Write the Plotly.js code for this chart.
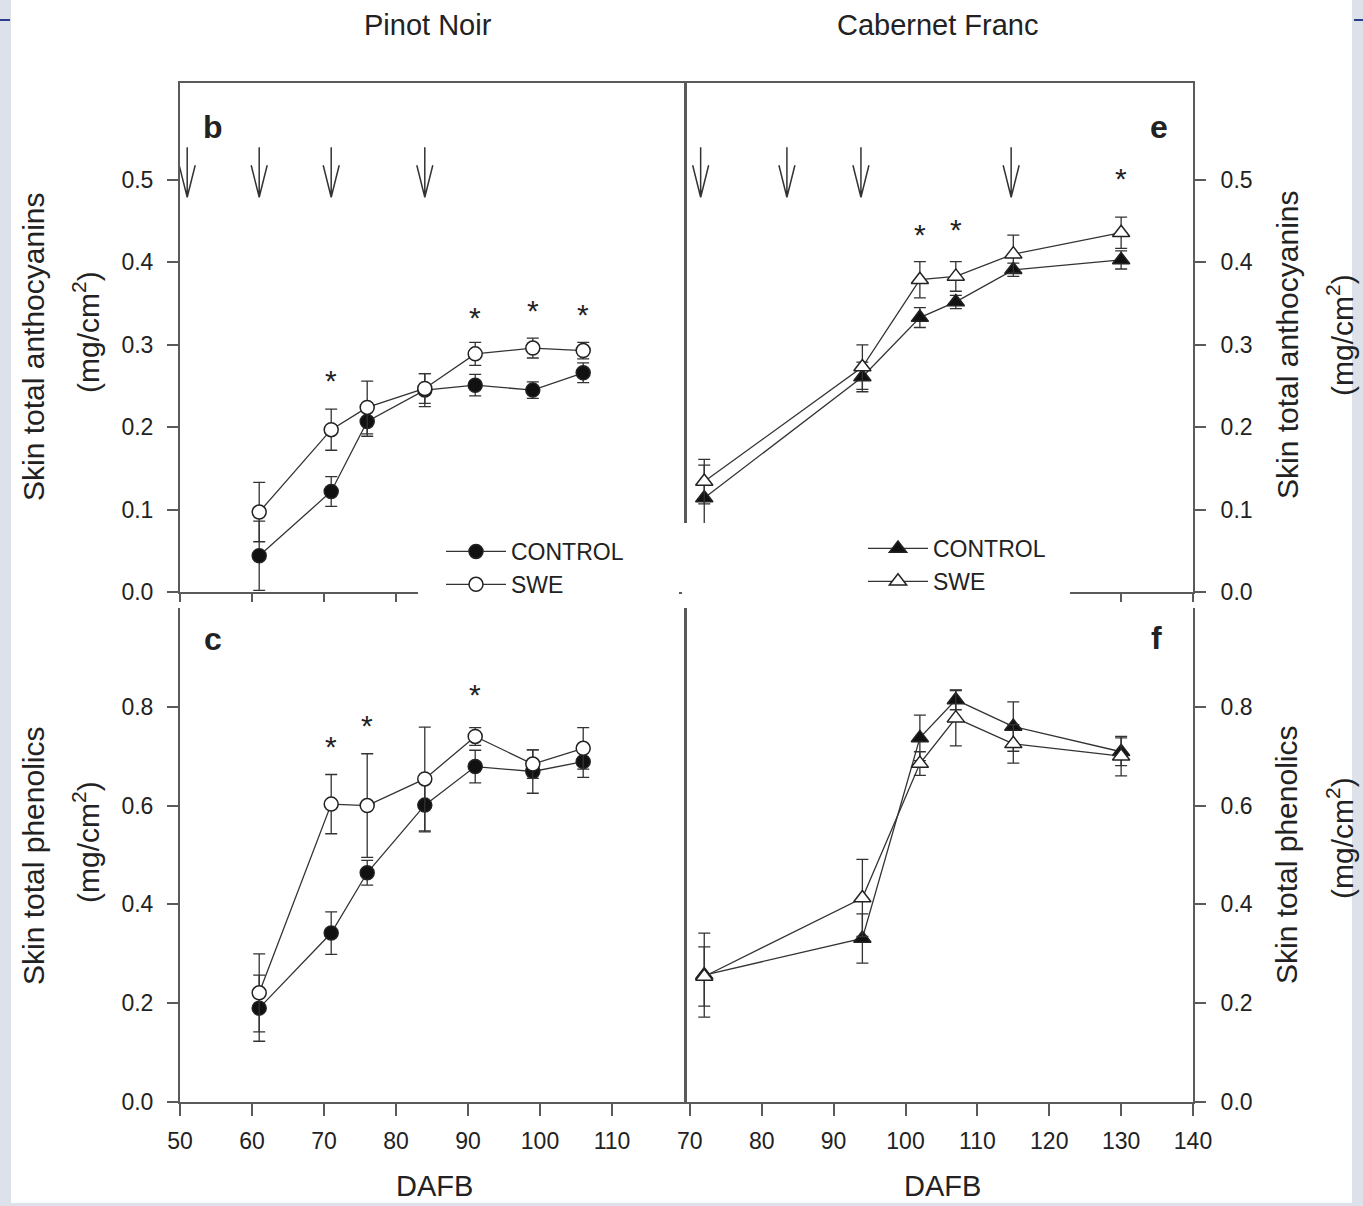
<!DOCTYPE html>
<html>
<head>
<meta charset="utf-8">
<script src="https://cdn.plot.ly/plotly-3.0.1.min.js"></script>
<style>html,body{margin:0;padding:0;background:#fff;}#chart{width:1363px;height:1206px;}</style>
</head>
<body>
<div id="chart"></div>
<script>
// ---------------- data ----------------
const pinotDates = [61, 71, 76, 84, 91, 99, 106];
const pinotAnthControl = [0.044, 0.122, 0.207, 0.245, 0.251, 0.245, 0.266];
const pinotAnthControlErr = [0.042, 0.018, 0.018, 0.020, 0.013, 0.010, 0.012];
const pinotAnthSWE = [0.097, 0.197, 0.224, 0.247, 0.289, 0.296, 0.293];
const pinotAnthSWEErr = [0.036, 0.025, 0.032, 0.018, 0.014, 0.012, 0.010];
const pinotPhenControl = [0.190, 0.342, 0.464, 0.601, 0.679, 0.669, 0.689];
const pinotPhenControlErr = [0.067, 0.043, 0.025, 0.054, 0.033, 0.044, 0.032];
const pinotPhenSWE = [0.221, 0.603, 0.600, 0.654, 0.740, 0.684, 0.716];
const pinotPhenSWEErr = [0.079, 0.060, 0.105, 0.105, 0.018, 0.029, 0.042];

const cabDates = [72, 94, 102, 107, 115, 130];
const cabAnthControl = [0.114, 0.261, 0.333, 0.352, 0.391, 0.403];
const cabAnthControlErr = [0.040, 0.018, 0.012, 0.008, 0.008, 0.011];
const cabAnthSWE = [0.134, 0.273, 0.379, 0.383, 0.410, 0.436];
const cabAnthSWEErr = [0.027, 0.027, 0.022, 0.018, 0.023, 0.019];
const cabPhenControl = [0.257, 0.331, 0.737, 0.814, 0.760, 0.709];
const cabPhenControlErr = [0.085, 0.050, 0.046, 0.020, 0.050, 0.028];
const cabPhenSWE = [0.254, 0.413, 0.685, 0.777, 0.725, 0.700];
const cabPhenSWEErr = [0.060, 0.078, 0.024, 0.056, 0.039, 0.040];

// spray (treatment) dates shown as arrows
const pinotSprayDates = [51, 61, 71, 84];
const cabSprayDates = [71.5, 83.5, 93.8, 114.7];
const arrowTipValue = 0.479;

// significance asterisks
const pinotAnthStarX = [71, 91, 99, 106];
const pinotAnthStarY = [0.260, 0.337, 0.345, 0.341];
const pinotPhenStarX = [71, 76, 91];
const pinotPhenStarY = [0.725, 0.768, 0.831];
const cabAnthStarX = [102, 107, 130];
const cabAnthStarY = [0.438, 0.443, 0.506];

const seriesNames = ['CONTROL', 'SWE'];
const pinotXTicks = [50, 60, 70, 80, 90, 100, 110];
const pinotAllTicks = [50, 60, 70, 80, 90, 100, 110, 120];
const cabXTicks = [70, 80, 90, 100, 110, 120, 130, 140];
const anthYTicks = [0, 0.1, 0.2, 0.3, 0.4, 0.5];
const phenYTicks = [0, 0.2, 0.4, 0.6, 0.8];

// ---------------- styles ----------------
const W = 1363, H = 1206;
const FONT = 'Liberation Sans, Arial, sans-serif';
const TXT = '#222';
const AX = '#5a5a5a';
const LINE = '#333';
const px = v => v / W;
const py = v => 1 - v / H;

function trace(x, y, err, name, symbol, filled, xa, ya, show, legend) {
  return {
    type: 'scatter', mode: 'lines+markers', x: x, y: y, name: name,
    xaxis: xa, yaxis: ya, showlegend: show, legend: legend,
    line: {color: LINE, width: 1.3},
    marker: {symbol: symbol, size: symbol.indexOf('triangle') === 0 ? 15 : 14,
             color: filled ? '#111' : '#fff', line: {color: '#222', width: 1.5}},
    error_y: {type: 'data', array: err, visible: true, color: LINE, thickness: 1.3, width: 6}
  };
}

const data = [
  trace(pinotDates, pinotAnthControl, pinotAnthControlErr, seriesNames[0], 'circle', true, 'x', 'y', true, 'legend'),
  trace(pinotDates, pinotAnthSWE, pinotAnthSWEErr, seriesNames[1], 'circle', false, 'x', 'y', true, 'legend'),
  trace(cabDates, cabAnthControl, cabAnthControlErr, seriesNames[0], 'triangle-up', true, 'x2', 'y2', true, 'legend2'),
  trace(cabDates, cabAnthSWE, cabAnthSWEErr, seriesNames[1], 'triangle-up', false, 'x2', 'y2', true, 'legend2'),
  trace(pinotDates, pinotPhenControl, pinotPhenControlErr, seriesNames[0], 'circle', true, 'x3', 'y3', false, 'legend'),
  trace(pinotDates, pinotPhenSWE, pinotPhenSWEErr, seriesNames[1], 'circle', false, 'x3', 'y3', false, 'legend'),
  trace(cabDates, cabPhenControl, cabPhenControlErr, seriesNames[0], 'triangle-up', true, 'x4', 'y4', false, 'legend2'),
  trace(cabDates, cabPhenSWE, cabPhenSWEErr, seriesNames[1], 'triangle-up', false, 'x4', 'y4', false, 'legend2')
];

const tickFont = {family: FONT, size: 23, color: TXT};
function xax(domain, range, ticks, labels, anchor, mirror, len) {
  return {domain: domain, range: range, anchor: anchor, tickmode: 'array', tickvals: ticks,
    showticklabels: labels, ticks: 'outside', ticklen: len, tickwidth: 2, tickcolor: AX,
    showline: true, linewidth: 2, linecolor: AX, mirror: mirror, showgrid: false, zeroline: false,
    tickfont: tickFont, ticklabelstandoff: 5, fixedrange: true};
}
function xtop(range, ticks, over, anchor) {
  return {overlaying: over, anchor: anchor, side: 'top', range: range, tickmode: 'array', tickvals: ticks,
    showticklabels: false, ticks: 'inside', ticklen: 6, tickwidth: 1.5, tickcolor: '#888',
    showline: false, showgrid: false, zeroline: false, fixedrange: true};
}
function yax(domain, range, ticks, side, anchor, standoff) {
  return {domain: domain, range: range, anchor: anchor, side: side, tickmode: 'array', tickvals: ticks,
    tickformat: '.1f', ticks: 'outside', ticklen: 11, tickwidth: 2, tickcolor: AX,
    showline: true, linewidth: 2, linecolor: AX, mirror: true, showgrid: false, zeroline: false,
    tickfont: tickFont, ticklabelstandoff: standoff, fixedrange: true};
}

const xLeft = [px(180), px(684)], xRight = [px(687), px(1193)];
const yTop = [py(592), py(83)], yBot = [py(1102), py(608)];

const annotations = [];
function txt(text, x, y, size, angle, extra) {
  annotations.push(Object.assign({text: text, x: px(x), y: py(y), xref: 'paper', yref: 'paper',
    xanchor: 'center', yanchor: 'middle', showarrow: false, textangle: angle || 0,
    font: {family: FONT, size: size, color: TXT}}, extra || {}));
}
txt('Pinot Noir', 428, 25, 29);
txt('Cabernet Franc', 938, 25, 29);
txt('DAFB', 434, 1186, 29);
txt('DAFB', 942, 1186, 29);
txt('Skin total anthocyanins', 33, 347, 30, -90);
txt('(mg/cm<sup>2</sup>)', 86, 332, 30, -90);
txt('Skin total phenolics', 33, 856, 30, -90);
txt('(mg/cm<sup>2</sup>)', 86, 842, 30, -90);
txt('Skin total anthocyanins', 1288, 345, 30, -90);
txt('(mg/cm<sup>2</sup>)', 1340, 335, 30, -90);
txt('Skin total phenolics', 1286, 855, 30, -90);
txt('(mg/cm<sup>2</sup>)', 1340, 838, 30, -90);
txt('<b>b</b>', 213, 127, 32);
txt('<b>c</b>', 213, 639, 32);
txt('<b>e</b>', 1159, 127, 32);
txt('<b>f</b>', 1156, 638, 32);

function stars(xs, ys, xa, ya) {
  xs.forEach((x, i) => annotations.push({text: '*', x: x, y: ys[i], xref: xa, yref: ya,
    showarrow: false, xanchor: 'center', yanchor: 'middle', yshift: -3,
    font: {family: FONT, size: 30, color: TXT}}));
}
stars(pinotAnthStarX, pinotAnthStarY, 'x', 'y');
stars(pinotPhenStarX, pinotPhenStarY, 'x3', 'y3');
stars(cabAnthStarX, cabAnthStarY, 'x2', 'y2');

const shapes = [
  // slide background edges
  {type: 'rect', xref: 'paper', yref: 'paper', x0: 0, x1: px(11), y0: 0, y1: 1, fillcolor: '#dde1e9', line: {width: 0}, layer: 'below'},
  {type: 'rect', xref: 'paper', yref: 'paper', x0: px(1352), x1: 1, y0: 0, y1: 1, fillcolor: '#dde1e9', line: {width: 0}, layer: 'below'},
  {type: 'rect', xref: 'paper', yref: 'paper', x0: 0, x1: 1, y0: 0, y1: 1 - 1203 / H, fillcolor: '#dde1e9', line: {width: 0}, layer: 'below'},
  {type: 'line', xref: 'paper', yref: 'paper', x0: 0, x1: px(10), y0: py(20), y1: py(20), line: {color: '#2b3c8c', width: 2}},
  {type: 'line', xref: 'paper', yref: 'paper', x0: px(1354), x1: px(1363), y0: py(20), y1: py(20), line: {color: '#2b3c8c', width: 2}},
  // white patches behind the legends (cover the axis lines as in the original)
  {type: 'rect', xref: 'paper', yref: 'paper', x0: px(418), x1: px(679), y0: py(604), y1: py(527), fillcolor: '#fff', line: {width: 0}, layer: 'above'},
  {type: 'rect', xref: 'paper', yref: 'paper', x0: px(682), x1: px(1070), y0: py(604), y1: py(523), fillcolor: '#fff', line: {width: 0}, layer: 'above'}
];
function arrows(dates, xa, ya) {
  dates.forEach(d => shapes.push({type: 'path', xref: xa, yref: ya, xsizemode: 'pixel', ysizemode: 'pixel',
    xanchor: d, yanchor: arrowTipValue, path: 'M0,0 L0,50 M-8,32 L0,0 L8,32',
    line: {color: '#333', width: 1.5}}));
}
arrows(pinotSprayDates, 'x', 'y');
arrows(cabSprayDates, 'x2', 'y2');

const legFont = {family: FONT, size: 23, color: TXT};
const layout = {
  width: W, height: H, margin: {l: 0, r: 0, t: 0, b: 0},
  paper_bgcolor: '#fff', plot_bgcolor: 'rgba(0,0,0,0)',
  font: {family: FONT, color: TXT},
  xaxis: xax(xLeft, [50, 120], pinotAllTicks, false, 'y', true, 8),
  yaxis: yax(yTop, [0, 0.6177], anthYTicks, 'left', 'x', 9),
  xaxis2: xax(xRight, [69.6, 140], cabXTicks, false, 'y2', true, 8),
  yaxis2: yax(yTop, [0, 0.6177], anthYTicks, 'right', 'x2', 10),
  xaxis3: xax(xLeft, [50, 120], pinotXTicks, true, 'y3', false, 12),
  yaxis3: yax(yBot, [0, 1.0], phenYTicks, 'left', 'x3', 9),
  xaxis4: xax(xRight, [69.6, 140], cabXTicks, true, 'y4', false, 12),
  yaxis4: yax(yBot, [0, 1.0], phenYTicks, 'right', 'x4', 10),
  xaxis5: xtop([50, 120], pinotAllTicks.slice(1, 7), 'x', 'y'),
  xaxis6: xtop([69.6, 140], cabXTicks.slice(1, 7), 'x2', 'y2'),
  legend: {x: px(441), y: py(530), xanchor: 'left', yanchor: 'top', bgcolor: 'rgba(0,0,0,0)',
    font: legFont, traceorder: 'normal', tracegroupgap: 0, itemwidth: 60, itemclick: false},
  legend2: {x: px(863), y: py(527), xanchor: 'left', yanchor: 'top', bgcolor: 'rgba(0,0,0,0)',
    font: legFont, traceorder: 'normal', tracegroupgap: 0, itemwidth: 60, itemclick: false},
  annotations: annotations,
  shapes: shapes
};

Plotly.newPlot('chart', data, layout, {staticPlot: true, displayModeBar: false});
</script>
</body>
</html>
